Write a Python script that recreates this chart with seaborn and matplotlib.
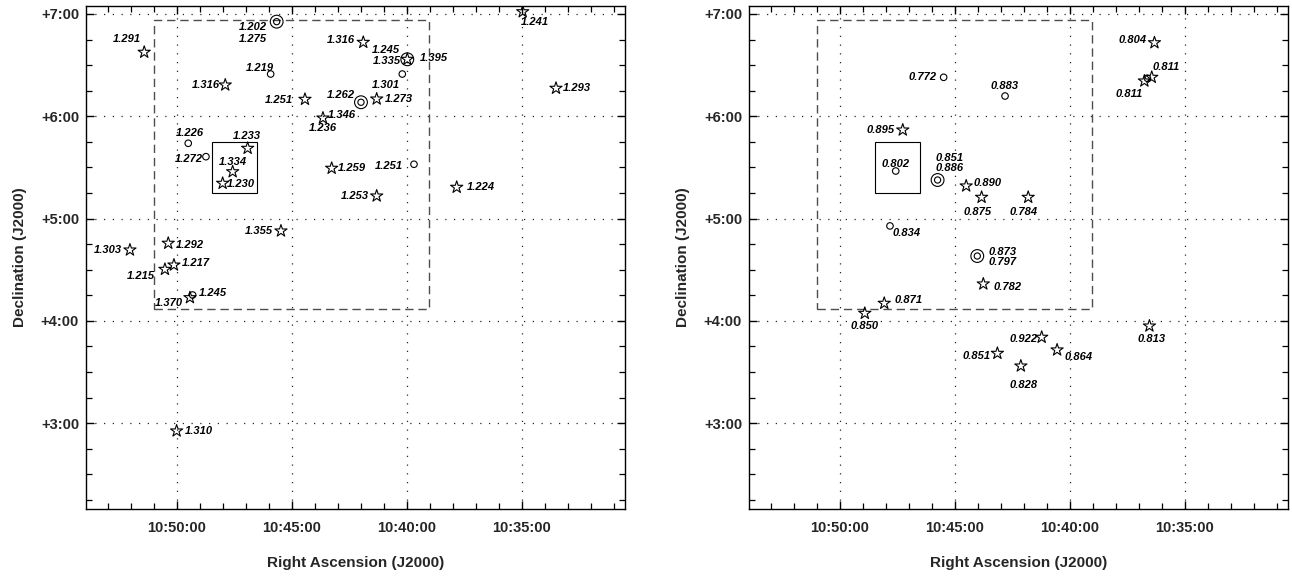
import matplotlib
matplotlib.use("Agg")
import matplotlib.pyplot as plt
import seaborn as sns
import pandas as pd
from matplotlib.patches import Rectangle
from matplotlib.ticker import MultipleLocator, FuncFormatter

# RA in minutes past 10h, Dec in degrees
left_ra = [45.652, 51.409, 45.913, 47.887, 44.422, 43.639, 34.957, 41.887, 39.974, 40.191,
           41.987, 41.304, 33.509, 49.496, 48.726, 46.913, 47.565, 48.000, 43.261, 39.683,
           41.304, 37.826, 45.465, 52.030, 50.365, 50.509, 50.117, 49.422, 49.304, 50.000]
left_dec = [6.925, 6.626, 6.413, 6.306, 6.166, 5.983, 7.022, 6.723, 6.557, 6.413,
            6.137, 6.169, 6.274, 5.736, 5.605, 5.687, 5.458, 5.345, 5.492, 5.531,
            5.221, 5.306, 4.879, 4.693, 4.759, 4.504, 4.546, 4.227, 4.253, 2.924]
left_kind = ["double", "star", "circle", "star", "star", "star", "star", "star", "dstar", "circle",
             "double", "star", "star", "circle", "circle", "star", "star", "star", "star", "circle",
             "star", "star", "star", "star", "star", "star", "star", "star", "circle", "star"]
left_lab_text = ["1.202", "1.275", "1.291", "1.219", "1.316", "1.251", "1.346", "1.236", "1.241",
                 "1.316", "1.245", "1.335", "1.395", "1.301", "1.262", "1.273", "1.293", "1.226",
                 "1.272", "1.233", "1.334", "1.230", "1.259", "1.251", "1.253", "1.224", "1.355",
                 "1.303", "1.292", "1.215", "1.217", "1.245", "1.370", "1.310"]
left_lab_src = [0, 0, 1, 2, 3, 4, 5, 5, 6, 7, 8, 8, 8, 9, 10, 11, 12, 13,
                14, 15, 16, 17, 18, 19, 20, 21, 22, 23, 24, 25, 26, 27, 27, 29]

right_ra = [45.479, 42.810, 47.256, 47.562, 45.742, 44.499, 43.829, 41.803, 47.812, 44.017, 43.755,
            48.061, 48.906, 43.142, 42.123, 41.217, 40.547, 36.534, 36.315, 36.433, 36.753, 36.620]
right_dec = [6.381, 6.198, 5.866, 5.465, 5.377, 5.319, 5.208, 5.208, 4.928, 4.634, 4.361,
             4.172, 4.074, 3.683, 3.559, 3.840, 3.716, 3.950, 6.719, 6.381, 6.345, 6.371]
right_kind = ["circle", "circle", "star", "circle", "double", "star", "star", "star", "circle", "double", "star",
              "star", "star", "star", "star", "star", "star", "star", "star", "star", "star", "circle"]
right_lab_text = ["0.772", "0.883", "0.895", "0.802", "0.851", "0.886", "0.890", "0.875", "0.784",
                  "0.834", "0.873", "0.797", "0.782", "0.871", "0.850", "0.851", "0.828", "0.922",
                  "0.864", "0.813", "0.804", "0.811", "0.811"]
right_lab_src = [0, 1, 2, 3, 4, 4, 5, 6, 7, 8, 9, 9, 10, 11, 12, 13, 14, 15, 16, 17, 18, 19, 20]

# survey field (dashed) and central box (solid)
field_ra = [51.0, 39.05]
field_dec = [4.116, 6.94]
core_ra = [48.48, 46.52]
core_dec = [5.25, 5.746]

# label placement: pixel offsets from the source, alignment
left_lab_off = [(-10, -5, "right"), (-10, -17, "right"), (-3, 13, "right"), (3, 6, "right"),
                (-5, 0, "right"), (-12, -1, "right"), (5, 3, "left"), (0, -10, "center"),
                (-2, -10, "left"), (-8, 2, "right"), (-7, 9, "right"), (-6, -2, "right"),
                (13, 1, "left"), (-2, -11, "right"), (-6, 7, "right"), (8, 0, "left"),
                (7, 0, "left"), (-12, 10, "left"), (-3, -2, "right"), (-1, 12, "center"),
                (0, 10, "center"), (4, -1, "left"), (6, 0, "left"), (-11, -2, "right"),
                (-8, 0, "right"), (10, 0, "left"), (-8, 0, "right"), (-8, 0, "right"),
                (8, -2, "left"), (-10, -7, "right"), (8, 2, "left"), (9, 5, "left"),
                (-7, -5, "right"), (8, 0, "left")]
right_lab_off = [(-7, 0, "right"), (0, 10, "center"), (-8, 0, "right"), (0, 7, "center"),
                 (-2, 22, "left"), (-2, 12, "left"), (7, 3, "left"), (-4, -15, "center"),
                 (-5, -15, "center"), (3, -7, "left"), (11, 4, "left"), (11, -6, "left"),
                 (10, -3, "left"), (10, 3, "left"), (0, -13, "center"), (-7, -3, "right"),
                 (3, -19, "center"), (-4, -2, "right"), (7, -7, "left"), (2, -13, "center"),
                 (-8, 3, "right"), (1, 10, "left"), (-2, -13, "right")]

sns.set_theme(style="ticks")
plt.rcParams["font.family"] = ["Liberation Sans", "DejaVu Sans"]


def draw_panel(ax, ra, dec, kind, lab_text, lab_src, lab_off):
    df = pd.DataFrame({"ra": ra, "dec": dec, "kind": kind})
    stars = df[df["kind"].isin(["star", "dstar"])]
    circles = df[df["kind"] == "circle"]
    doubles = df[df["kind"].isin(["double", "dstar"])]

    common = dict(x="ra", y="dec", color="none", edgecolor="black", ax=ax, zorder=3, legend=False)
    sns.scatterplot(data=stars, marker="*", s=85, linewidth=0.8, **common)
    sns.scatterplot(data=circles, marker="o", s=22, linewidth=0.8, **common)
    sns.scatterplot(data=doubles, marker="o", s=85, linewidth=0.8, **common)
    sns.scatterplot(data=doubles[doubles["kind"] == "double"], marker="o", s=20, linewidth=0.8, **common)

    for txt, src, (dx, dy, ha) in zip(lab_text, lab_src, lab_off):
        ax.annotate(txt, (ra[src], dec[src]), xytext=(dx, dy), textcoords="offset pixels",
                    ha=ha, va="center", fontsize=8, fontweight="bold", fontstyle="italic",
                    color="black", zorder=4)

    ax.add_patch(Rectangle((field_ra[0], field_dec[0]), field_ra[1] - field_ra[0],
                           field_dec[1] - field_dec[0], fill=False, edgecolor="0.3",
                           linewidth=1.0, linestyle=(0, (6, 3.5)), zorder=2))
    ax.add_patch(Rectangle((core_ra[0], core_dec[0]), core_ra[1] - core_ra[0],
                           core_dec[1] - core_dec[0], fill=False, edgecolor="black",
                           linewidth=0.8, zorder=2))

    ax.set_xlim(53.94, 30.51)
    ax.set_ylim(2.161, 7.078)
    ax.xaxis.set_major_locator(MultipleLocator(5))
    ax.xaxis.set_minor_locator(MultipleLocator(1))
    ax.yaxis.set_major_locator(MultipleLocator(1))
    ax.yaxis.set_minor_locator(MultipleLocator(0.25))
    ax.xaxis.set_major_formatter(FuncFormatter(lambda v, p: f"10:{int(round(v)):02d}:00"))
    ax.yaxis.set_major_formatter(FuncFormatter(lambda v, p: f"+{int(round(v))}:00"))
    ax.tick_params(which="both", direction="in", top=True, right=True, color="black")
    ax.tick_params(which="major", length=6, width=1.0, labelsize=10.5, pad=5)
    ax.tick_params(axis="x", which="major", pad=9)
    ax.tick_params(which="minor", length=4, width=0.9)
    for lab in ax.get_xticklabels() + ax.get_yticklabels():
        lab.set_fontweight("bold")
    ax.grid(True, which="major", color="0.15", linestyle=(0, (1, 6)), linewidth=0.9)
    ax.set_axisbelow(True)
    for sp in ax.spines.values():
        sp.set_color("black")
        sp.set_linewidth(1.0)
    ax.set_xlabel("Right Ascension (J2000)", fontsize=11, fontweight="bold", labelpad=15)
    ax.set_ylabel("Declination (J2000)", fontsize=11, fontweight="bold", labelpad=10)


fig = plt.figure(figsize=(12.92, 5.76), dpi=100)
ax1 = fig.add_axes([86 / 1292, 67 / 576, 539 / 1292, 503 / 576])
ax2 = fig.add_axes([749 / 1292, 67 / 576, 539 / 1292, 503 / 576])

draw_panel(ax1, left_ra, left_dec, left_kind, left_lab_text, left_lab_src, left_lab_off)
draw_panel(ax2, right_ra, right_dec, right_kind, right_lab_text, right_lab_src, right_lab_off)

fig.savefig("out.png", dpi=100, facecolor="white")
